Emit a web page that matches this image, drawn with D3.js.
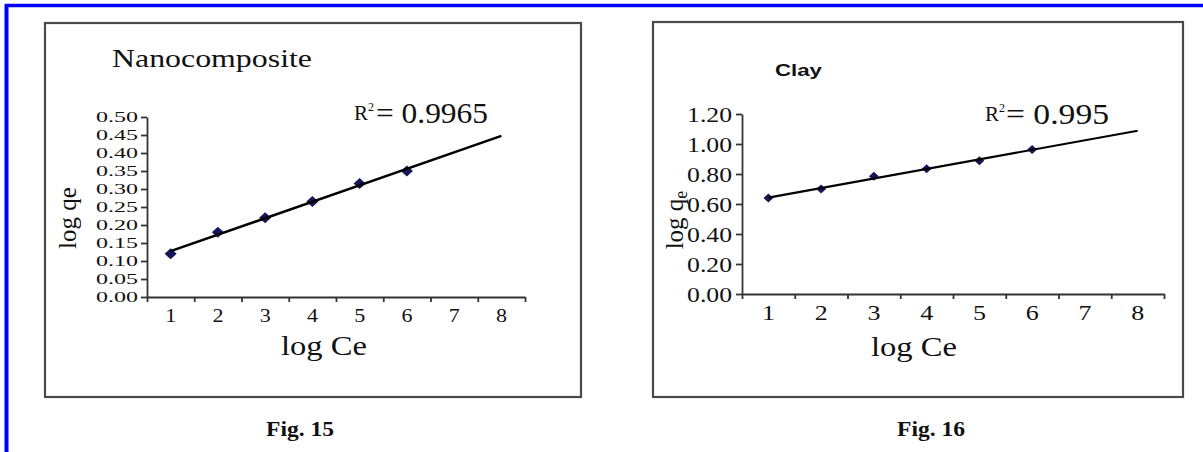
<!DOCTYPE html>
<html>
<head>
<meta charset="utf-8">
<script src="https://cdn.jsdelivr.net/npm/d3@7"></script>
<style>
  html, body { margin: 0; padding: 0; background: #fff; }
  svg { display: block; }
</style>
</head>
<body>
<svg id="fig" width="1203" height="452"></svg>
<script>
// Freundlich isotherm plots: log qe against log Ce
const categories = ["1", "2", "3", "4", "5", "6", "7", "8"];
const measuredAt = ["1", "2", "3", "4", "5", "6"];

const nanoLogQe = [0.12, 0.18, 0.22, 0.265, 0.315, 0.35];
const clayLogQe = [0.64, 0.70, 0.785, 0.835, 0.888, 0.963];

const nanoYTicks = [0, 0.05, 0.10, 0.15, 0.20, 0.25, 0.30, 0.35, 0.40, 0.45, 0.50];
const clayYTicks = [0, 0.20, 0.40, 0.60, 0.80, 1.00, 1.20];

const nanoR2 = "0.9965";
const clayR2 = "0.995";

const SERIF = "'Liberation Serif', 'Times New Roman', serif";
const SANS = "'Liberation Sans', Arial, sans-serif";
const INK = "#111";
const AXIS = "#333";
const MARKER = "#16165a";

const svg = d3.select("#fig");
svg.append("rect").attr("width", 1203).attr("height", 452).attr("fill", "#fff");

// page border (top and left rules)
svg.append("line").attr("x1", 5).attr("x2", 1203).attr("y1", 5.5).attr("y2", 5.5)
  .attr("stroke", "#0000ff").attr("stroke-width", 3.5);
svg.append("line").attr("x1", 6.5).attr("x2", 6.5).attr("y1", 4).attr("y2", 452)
  .attr("stroke", "#0000ff").attr("stroke-width", 4);

function label(g, s, x, y, o) {
  const t = g.append("text")
    .attr("x", x).attr("y", y)
    .attr("font-family", o.family || SERIF)
    .attr("font-size", o.size)
    .attr("font-weight", o.weight || "normal")
    .attr("fill", o.fill || INK)
    .attr("text-anchor", o.anchor || "start")
    .text(s);
  if (o.len) t.attr("textLength", o.len).attr("lengthAdjust", "spacingAndGlyphs");
  return t;
}

// least-squares line through the measured points
function fit(xs, ys) {
  const n = xs.length;
  const mx = d3.mean(xs), my = d3.mean(ys);
  let sxy = 0, sxx = 0;
  for (let i = 0; i < n; i++) { sxy += (xs[i] - mx) * (ys[i] - my); sxx += (xs[i] - mx) ** 2; }
  const slope = sxy / sxx;
  return { slope, intercept: my - slope * mx };
}

function panel(cfg) {
  const g = svg.append("g");

  // outer frame
  g.append("rect")
    .attr("x", cfg.frame[0]).attr("y", cfg.frame[1])
    .attr("width", cfg.frame[2] - cfg.frame[0]).attr("height", cfg.frame[3] - cfg.frame[1])
    .attr("fill", "none").attr("stroke", "#4a4a4a").attr("stroke-width", 2.2);

  const x = d3.scaleBand().domain(categories).range([cfg.xr[0], cfg.xr[1]]).padding(0);
  const xEdge = d3.scaleLinear().domain([0, categories.length]).range([cfg.xr[0], cfg.xr[1]]);
  const y = d3.scaleLinear().domain([0, d3.max(cfg.yTicks)]).range([cfg.yr[0], cfg.yr[1]]);
  const cx = c => x(c) + x.bandwidth() / 2;

  // category boundary ticks
  const edgeAxis = g.append("g").attr("transform", `translate(0,${cfg.yr[0]})`)
    .call(d3.axisBottom(xEdge).tickValues(d3.range(0, categories.length + 1))
      .tickSize(cfg.xTick).tickSizeOuter(0).tickFormat(""));
  edgeAxis.select(".domain").attr("stroke", AXIS).attr("stroke-width", 1.8);
  edgeAxis.selectAll(".tick line").attr("stroke", AXIS).attr("stroke-width", 1.8);

  // category labels, centred in each band
  const catAxis = g.append("g").attr("transform", `translate(0,${cfg.yr[0]})`)
    .call(d3.axisBottom(x).tickSize(0).tickPadding(cfg.xPad));
  catAxis.select(".domain").remove();
  catAxis.selectAll(".tick text")
    .attr("font-family", SERIF).attr("font-size", cfg.xFont).attr("fill", INK)
    .attr("textLength", cfg.xLen).attr("lengthAdjust", "spacingAndGlyphs");

  // value axis
  const yAxis = g.append("g").attr("transform", `translate(${cfg.xr[0]},0)`)
    .call(d3.axisLeft(y).tickValues(cfg.yTicks).tickSize(6).tickSizeOuter(0)
      .tickPadding(cfg.yPad).tickFormat(d3.format(".2f")));
  yAxis.select(".domain").attr("stroke", AXIS).attr("stroke-width", 1.8);
  yAxis.selectAll(".tick line").attr("stroke", AXIS).attr("stroke-width", 1.8);
  yAxis.selectAll(".tick text")
    .attr("font-family", SERIF).attr("font-size", cfg.yFont).attr("fill", INK)
    .attr("textLength", cfg.yLen).attr("lengthAdjust", "spacingAndGlyphs");

  // markers
  g.selectAll("path.pt").data(cfg.values).join("path")
    .attr("class", "pt")
    .attr("d", d3.symbol(d3.symbolSquare, cfg.markerSize)())
    .attr("transform", (d, i) => `translate(${cx(measuredAt[i])},${y(d)}) scale(1.1,1) rotate(45)`)
    .attr("fill", MARKER);

  // linear trendline extended across all categories
  const xs = measuredAt.map(Number);
  const f = fit(xs, cfg.values);
  const ends = [categories[0], categories[categories.length - 1]];
  g.append("path")
    .datum(ends)
    .attr("d", d3.line().x(c => cx(c)).y(c => y(f.intercept + f.slope * Number(c))))
    .attr("stroke", "#000").attr("stroke-width", cfg.lineWidth).attr("fill", "none");

  // titles and annotations
  cfg.title(g);
  label(g, "R", cfg.r2[0], cfg.r2[1], { size: 21, len: 14 });
  label(g, "2", cfg.r2[0] + 14, cfg.r2[1] - 9, { size: 12 });
  label(g, "= " + cfg.r2Text, cfg.r2[2], cfg.r2[3], { size: 29, len: cfg.r2[4] });

  label(g, "log Ce", cfg.xTitle[0], cfg.xTitle[1], { size: 27, anchor: "middle", len: 86 });

  const yt = g.append("text")
    .attr("transform", `translate(${cfg.yTitle[0]},${cfg.yTitle[1]}) rotate(-90)`)
    .attr("font-family", SERIF).attr("font-size", 25).attr("fill", INK)
    .attr("text-anchor", "middle");
  yt.append("tspan").text("log q");
  yt.append("tspan").text("e")
    .attr("font-size", cfg.subE ? 18 : 25)
    .attr("dy", cfg.subE ? 4 : 0);

  label(svg, cfg.fig, cfg.figPos[0], cfg.figPos[1], { size: 21, weight: "bold", anchor: "middle", len: 68 });
}

panel({
  frame: [45, 23, 581, 397],
  xr: [147, 525], yr: [297, 117],
  yTicks: nanoYTicks, values: nanoLogQe,
  xTick: 5, xPad: 12, xFont: 19, xLen: 11,
  yPad: 3, yFont: 15.5, yLen: 42,
  markerSize: 60, lineWidth: 2.5,
  title: g => label(g, "Nanocomposite", 112, 67, { size: 25, len: 200 }),
  r2: [354, 120, 376, 123, 112], r2Text: nanoR2,
  xTitle: [324, 355], yTitle: [76, 218], subE: false,
  fig: "Fig. 15", figPos: [300, 436]
});

panel({
  frame: [653, 22, 1183, 397],
  xr: [742, 1164], yr: [294, 114],
  yTicks: clayYTicks, values: clayLogQe,
  xTick: 5, xPad: 10, xFont: 22, xLen: 13,
  yPad: 4, yFont: 22, yLen: 45,
  markerSize: 40, lineWidth: 2.1,
  title: g => label(g, "Clay", 775, 76, { size: 17, weight: "bold", family: SANS, len: 47 }),
  r2: [985, 121, 1006, 124, 103], r2Text: clayR2,
  xTitle: [914, 356], yTitle: [683, 220], subE: true,
  fig: "Fig. 16", figPos: [931, 436]
});
</script>
</body>
</html>
